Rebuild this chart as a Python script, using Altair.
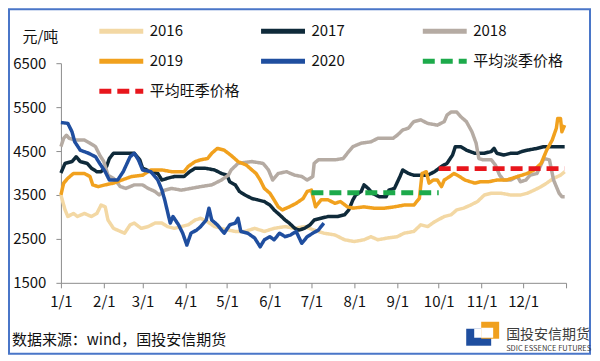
import altair as alt
import pandas as pd

FONT = "Noto Sans CJK SC"

series_names = ["2016", "2017", "2018", "2019", "2020", "平均淡季价格", "平均旺季价格"]
series_colors = ["#F3D8A4", "#0F2A3A", "#B5ABA3", "#F1A11E", "#1F4E9F", "#1DAA4B", "#E8161C"]
series_dashes = [[1, 0], [1, 0], [1, 0], [1, 0], [1, 0], [12, 6], [12, 6]]

# (day of year, price yuan/ton)
s2016 = [(0, 3500), (3, 3160), (5, 3010), (9, 3080), (12, 3010), (17, 3080), (22, 3010), (26, 3080),
         (29, 3270), (32, 3230), (34, 2930), (38, 2740), (43, 2670), (46, 2630), (50, 2820), (53, 2860),
         (58, 2740), (63, 2780), (68, 2860), (73, 2860), (77, 2780), (82, 2740), (87, 2780), (92, 2820),
         (97, 2930), (101, 2970), (106, 2890), (111, 2780), (116, 2740), (121, 2700), (126, 2670),
         (133, 2670), (140, 2740), (147, 2670), (154, 2740), (162, 2780), (169, 2740), (176, 2780),
         (183, 2700), (190, 2630), (198, 2590), (205, 2480), (212, 2440), (219, 2480), (224, 2550),
         (229, 2480), (236, 2520), (243, 2550), (248, 2630), (255, 2670), (260, 2820), (265, 2780),
         (270, 2890), (277, 3010), (282, 3050), (286, 3160), (291, 3200), (296, 3270), (301, 3350),
         (306, 3500), (311, 3540), (318, 3540), (325, 3500), (332, 3500), (337, 3540), (342, 3610),
         (347, 3690), (351, 3770), (356, 3880), (361, 3950), (364, 4030)]

s2017 = [(0, 4000), (3, 4220), (8, 4260), (11, 4370), (14, 4260), (19, 4220), (22, 4110), (26, 4030),
         (29, 4030), (33, 4150), (35, 4330), (38, 4450), (44, 4450), (53, 4450), (57, 4300), (59, 4110),
         (65, 4030), (70, 3990), (73, 3840), (77, 3880), (82, 3920), (89, 3920), (93, 4030), (97, 4110),
         (104, 4110), (111, 4070), (116, 3990), (120, 3950), (122, 3800), (126, 3730), (129, 3580),
         (133, 3500), (138, 3420), (142, 3390), (147, 3350), (151, 3270), (154, 3160), (158, 3050),
         (162, 2930), (165, 2860), (169, 2740), (172, 2700), (176, 2740), (180, 2820), (183, 2930),
         (188, 2970), (193, 3010), (200, 3010), (205, 3050), (208, 3160), (211, 3390), (213, 3500),
         (217, 3580), (219, 3730), (222, 3650), (225, 3540), (230, 3460), (235, 3460), (237, 3610),
         (241, 3650), (245, 3920), (247, 4070), (251, 3990), (255, 3950), (265, 3950), (270, 4030),
         (275, 4150), (279, 4220), (283, 4410), (285, 4600), (289, 4600), (293, 4520), (299, 4450),
         (306, 4450), (311, 4490), (313, 4560), (315, 4450), (320, 4410), (325, 4450), (330, 4450),
         (333, 4490), (337, 4520), (344, 4560), (349, 4600), (364, 4600)]

s2018 = [(0, 4600), (2, 4790), (4, 4860), (6, 4790), (10, 4750), (17, 4750), (21, 4680), (25, 4600),
         (28, 4410), (31, 4260), (34, 3950), (38, 3880), (43, 3690), (47, 3650), (53, 3730), (59, 3730),
         (63, 3650), (68, 3580), (71, 3500), (75, 3610), (80, 3650), (87, 3610), (94, 3650), (101, 3690),
         (109, 3730), (116, 3840), (121, 3950), (123, 4070), (128, 4220), (138, 4260), (146, 4220),
         (150, 4070), (153, 3840), (157, 3990), (163, 4030), (169, 3950), (174, 3920), (178, 3840),
         (182, 3920), (183, 4220), (186, 4300), (198, 4300), (204, 4330), (207, 4450), (211, 4600),
         (217, 4680), (224, 4710), (229, 4790), (240, 4790), (243, 4860), (247, 4980), (251, 5020),
         (255, 5170), (260, 5210), (265, 5130), (272, 5090), (277, 5170), (279, 5320), (282, 5390),
         (286, 5390), (289, 5280), (293, 5170), (297, 4940), (300, 4680), (302, 4330), (305, 4300),
         (311, 4300), (314, 4180), (317, 3950), (320, 3840), (325, 3840), (330, 3920), (332, 3800),
         (336, 3840), (339, 3950), (344, 3990), (349, 4330), (353, 4300), (356, 3840), (360, 3540),
         (362, 3460), (364, 3460)]

s2019 = [(0, 3500), (2, 3770), (5, 3880), (9, 3990), (17, 3990), (21, 3920), (23, 3730), (27, 3690),
         (32, 3730), (38, 3770), (44, 3840), (51, 3920), (59, 3950), (65, 4070), (73, 4070), (80, 4030),
         (89, 4030), (92, 4150), (97, 4260), (101, 4300), (106, 4330), (109, 4450), (113, 4560),
         (118, 4520), (123, 4400), (128, 4260), (134, 4180), (138, 4070), (141, 3990), (144, 3840),
         (147, 3650), (151, 3540), (154, 3390), (157, 3230), (160, 3160), (165, 3230), (170, 3310),
         (175, 3420), (178, 3580), (181, 3610), (184, 3230), (188, 3390), (193, 3390), (198, 3310),
         (202, 3350), (207, 3230), (211, 3200), (219, 3230), (226, 3200), (234, 3200), (241, 3230),
         (248, 3270), (255, 3270), (259, 3420), (261, 3990), (264, 4030), (266, 3770), (269, 3840),
         (272, 3840), (275, 3690), (277, 3840), (281, 3920), (284, 3990), (288, 3920), (292, 3840),
         (299, 3770), (303, 3800), (309, 3800), (315, 3840), (322, 3840), (330, 3920), (337, 3990),
         (342, 4070), (347, 4220), (351, 4520), (355, 4750), (358, 5020), (359, 5240), (361, 5240),
         (362, 4940), (364, 5090)]

s2020 = [(0, 5150), (5, 5130), (8, 4940), (10, 4710), (14, 4520), (20, 4450), (25, 4370), (28, 4220),
         (32, 4030), (35, 3840), (41, 3840), (45, 4030), (50, 4370), (53, 4450), (56, 4300), (59, 4070),
         (65, 4030), (70, 3840), (73, 3610), (75, 3390), (79, 2860), (81, 3010), (85, 2820), (88, 2630),
         (91, 2360), (94, 2630), (98, 2700), (101, 2780), (105, 2930), (107, 3200), (109, 2930),
         (113, 2820), (118, 2630), (122, 2820), (126, 2860), (128, 2970), (130, 2670), (135, 2630),
         (140, 2520), (144, 2320), (147, 2480), (151, 2550), (154, 2480), (158, 2630), (162, 2550),
         (166, 2590), (170, 2670), (174, 2400), (178, 2550), (182, 2630), (186, 2700), (190, 2860)]

avg_low = [(181, 3550), (273, 3550)]    # 平均淡季价格 7/1 - 10/1
avg_high = [(273, 4100), (364, 4100)]   # 平均旺季价格 10/1 - 12/31

month_ticks = list(range(1, 13))
y_ticks = [1500, 2500, 3500, 4500, 5500, 6500]

base = pd.Timestamp("2001-01-01")


def frame(name, pairs):
    return pd.DataFrame({
        "date": [(base + pd.Timedelta(days=d)).strftime("%Y-%m-%d") for d, _ in pairs],
        "price": [v for _, v in pairs],
        "series": name,
    })


years_df = pd.concat([frame(n, s) for n, s in
                      zip(series_names[:5], [s2016, s2017, s2018, s2019, s2020])],
                     ignore_index=True)
avg_df = pd.concat([frame(series_names[5], avg_low), frame(series_names[6], avg_high)],
                   ignore_index=True)

tick_values = [alt.DateTime(year=2001, month=m, date=1, utc=True) for m in month_ticks] + \
              [alt.DateTime(year=2002, month=1, date=1, utc=True)]

x_enc = alt.X("date:T",
              scale=alt.Scale(type="utc",
                              domain=[alt.DateTime(year=2001, month=1, date=1, utc=True),
                                      alt.DateTime(year=2002, month=1, date=1, utc=True)]),
              axis=alt.Axis(values=tick_values,
                            labelExpr="utcyear(datum.value) > 2001 ? '' : "
                                      "(utcmonth(datum.value) + 1) + '/' + utcdate(datum.value)",
                            labelFlush=False, labelOverlap=False, grid=False,
                            tickSize=5, labelPadding=7, labelFontSize=15, labelFont=FONT,
                            labelColor="#111111", domainColor="#8C8C8C", tickColor="#8C8C8C",
                            title=None))

y_enc = alt.Y("price:Q",
              scale=alt.Scale(domain=[1500, 6500], nice=False, zero=False),
              axis=alt.Axis(values=y_ticks, format="d", grid=False,
                            tickSize=5, labelPadding=10, labelFontSize=15, labelFont=FONT,
                            labelColor="#111111", domainColor="#8C8C8C", tickColor="#8C8C8C",
                            title="元/吨", titleAngle=0, titleX=-21, titleY=-27,
                            titleAlign="center", titleBaseline="middle",
                            titleFontWeight="normal", titleFontSize=15, titleFont=FONT,
                            titleColor="#111111"))

legend = alt.Legend(title=None, orient="none", legendX=36, legendY=-47, columns=3,
                    direction="horizontal", values=series_names,
                    symbolType="stroke", symbolSize=1936, symbolStrokeWidth=5,
                    labelFontSize=15, labelFont=FONT, labelColor="#111111",
                    columnPadding=18, rowPadding=0, clipHeight=30, gridAlign="all",
                    labelOffset=4, padding=0)

color_enc = alt.Color("series:N",
                      scale=alt.Scale(domain=series_names, range=series_colors), legend=legend)
dash_enc = alt.StrokeDash("series:N",
                          scale=alt.Scale(domain=series_names, range=series_dashes), legend=legend)

years = alt.Chart(years_df).mark_line(strokeWidth=3.5, strokeJoin="round").encode(
    x=x_enc, y=y_enc, color=color_enc, strokeDash=dash_enc)

avgs = alt.Chart(avg_df).mark_line(strokeWidth=5, strokeCap="butt").encode(
    x=x_enc, y=y_enc, color=color_enc, strokeDash=dash_enc)

one = pd.DataFrame({"k": [0]})

border = alt.Chart(one).mark_rect(fill="transparent", stroke="#4A76C8", strokeWidth=2).encode(
    x=alt.value(-52), x2=alt.value(530), y=alt.value(-54), y2=alt.value(291))

source = alt.Chart(one).mark_text(text="数据来源：wind，国投安信期货", align="left",
                                  baseline="middle", fontSize=15, font=FONT,
                                  color="#111111").encode(x=alt.value(-49), y=alt.value(277))

logo_blue = alt.Chart(one).mark_rect(fill="#1F4E9F").encode(
    x=alt.value(406), x2=alt.value(431), y=alt.value(266), y2=alt.value(283))
logo_white1 = alt.Chart(one).mark_rect(fill="white").encode(
    x=alt.value(414), x2=alt.value(431), y=alt.value(266), y2=alt.value(275))
logo_orange = alt.Chart(one).mark_rect(fill="#F0A01E").encode(
    x=alt.value(421), x2=alt.value(439), y=alt.value(259), y2=alt.value(276))
logo_white2 = alt.Chart(one).mark_rect(fill="white").encode(
    x=alt.value(421), x2=alt.value(433), y=alt.value(265), y2=alt.value(275))
logo_cn = alt.Chart(one).mark_text(text="国投安信期货", align="left", baseline="middle",
                                   fontSize=14, font=FONT, color="#3C3C3C").encode(
    x=alt.value(446), y=alt.value(272))
logo_en = alt.Chart(one).mark_text(text="SDIC ESSENCE FUTURES", align="left", baseline="middle",
                                   fontSize=7.5, font=FONT, color="#3C3C3C").encode(
    x=alt.value(446), y=alt.value(286))

chart = alt.layer(
    border, years, avgs, source, logo_blue, logo_white1, logo_orange, logo_white2, logo_cn, logo_en
).properties(
    width=506, height=220, padding=0, background="white"
).configure_view(stroke=None)

chart.save("out.html", embed_options={"renderer": "svg", "actions": False})
